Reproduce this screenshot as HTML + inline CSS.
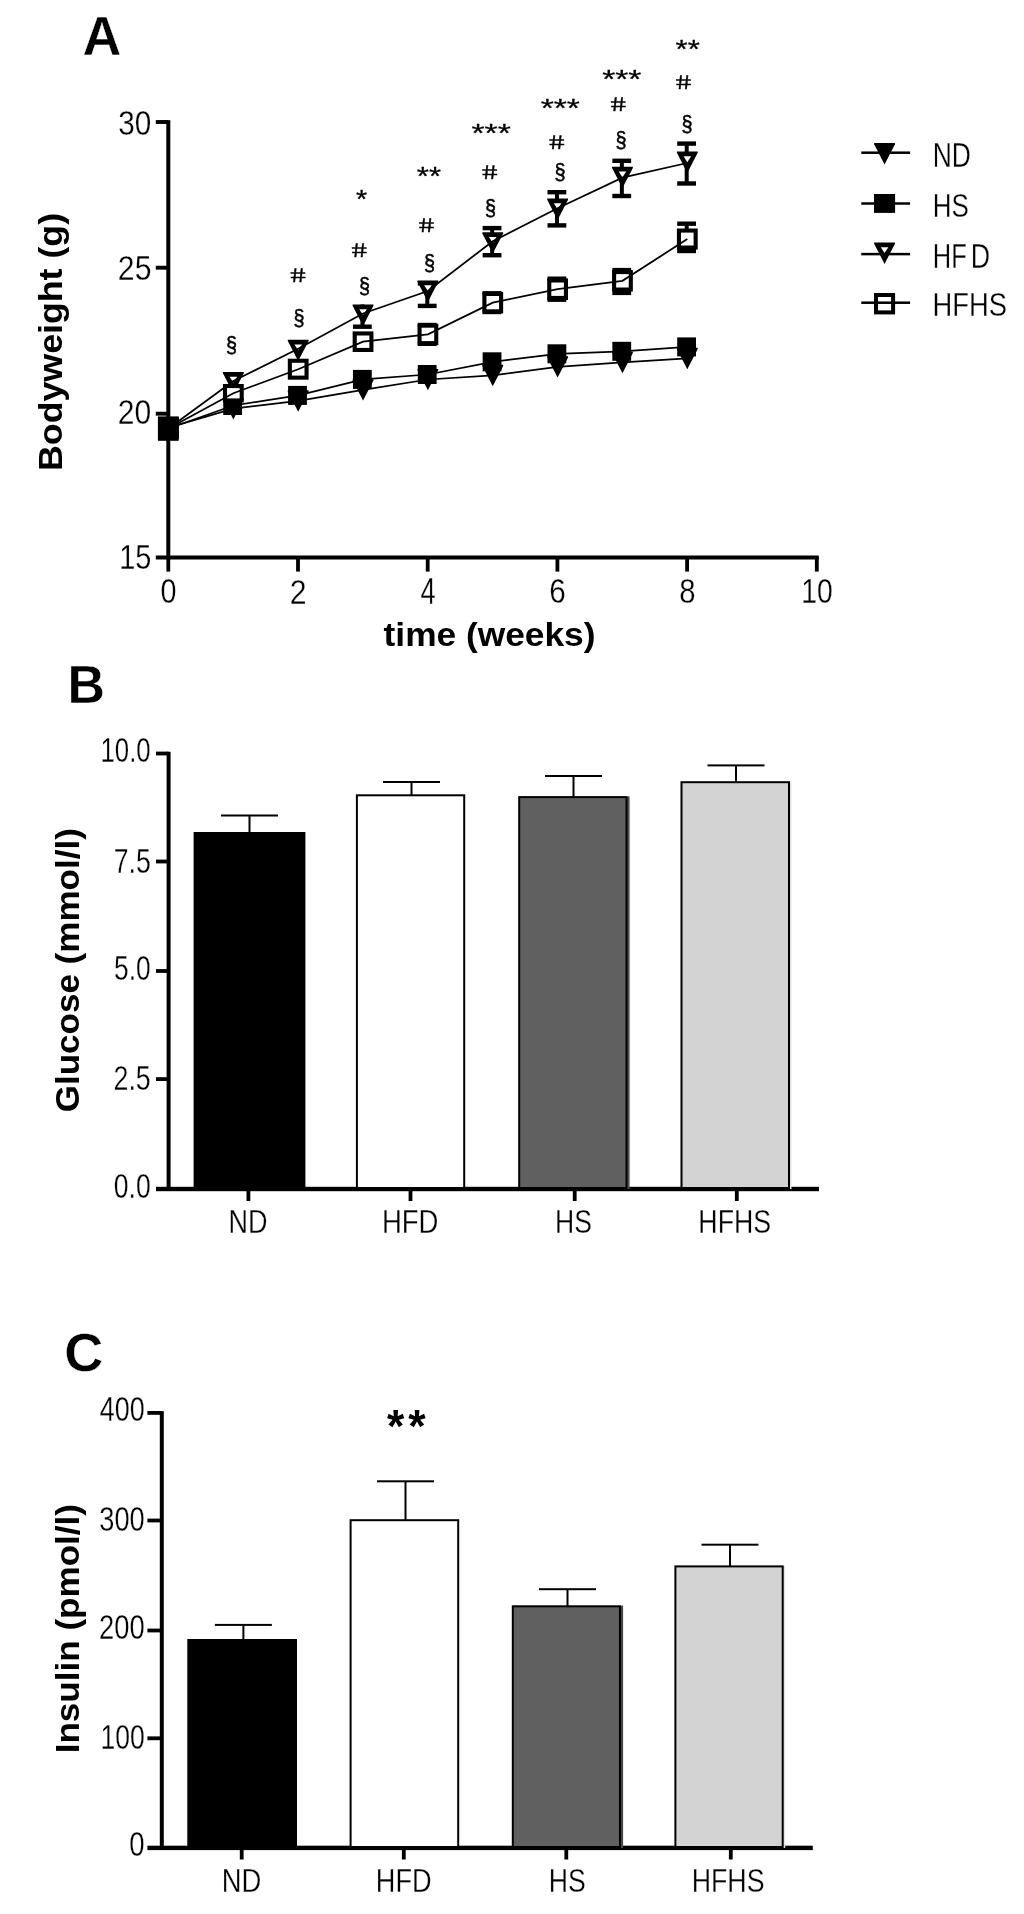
<!DOCTYPE html>
<html lang="en"><head><meta charset="utf-8"><title>Figure</title>
<style>
html,body{margin:0;padding:0;background:#fff}
svg{display:block;filter:blur(0.45px)}
text{font-family:"Liberation Sans",Arial,sans-serif;fill:#000}
</style></head><body>
<svg width="1024" height="1914" viewBox="0 0 1024 1914">
<rect width="1024" height="1914" fill="#fff"/>
<text transform="matrix(0.5388 0 0 0.5542 82.45 54.50)" font-size="100" font-weight="bold" stroke="#fff" stroke-width="0.73">A</text>
<rect x="166.30" y="120.20" width="4.00" height="439.30" fill="#000"/>
<rect x="155.80" y="555.50" width="663.00" height="4.00" fill="#000"/>
<rect x="155.80" y="120.05" width="12.50" height="3.90" fill="#000"/>
<rect x="155.80" y="265.75" width="12.50" height="3.90" fill="#000"/>
<rect x="155.80" y="411.75" width="12.50" height="3.90" fill="#000"/>
<rect x="166.40" y="557.00" width="3.80" height="14.60" fill="#000"/>
<rect x="296.10" y="557.00" width="3.80" height="14.60" fill="#000"/>
<rect x="425.80" y="557.00" width="3.80" height="14.60" fill="#000"/>
<rect x="555.50" y="557.00" width="3.80" height="14.60" fill="#000"/>
<rect x="685.20" y="557.00" width="3.80" height="14.60" fill="#000"/>
<rect x="814.90" y="557.00" width="3.80" height="14.60" fill="#000"/>
<text transform="matrix(0.2971 0 0 0.3484 118.26 134.58)" font-size="100" stroke="#fff" stroke-width="0.78">30</text>
<text transform="matrix(0.3015 0 0 0.3484 117.87 279.98)" font-size="100" stroke="#fff" stroke-width="0.77">25</text>
<text transform="matrix(0.3007 0 0 0.3484 117.87 424.08)" font-size="100" stroke="#fff" stroke-width="0.77">20</text>
<text transform="matrix(0.2889 0 0 0.3534 119.21 569.07)" font-size="100" stroke="#fff" stroke-width="0.78">15</text>
<text transform="matrix(0.2880 0 0 0.3512 160.47 603.37)" font-size="100" stroke="#fff" stroke-width="0.79">0</text>
<text transform="matrix(0.3022 0 0 0.3563 289.81 603.73)" font-size="100" stroke="#fff" stroke-width="0.76">2</text>
<text transform="matrix(0.2723 0 0 0.3615 420.41 603.73)" font-size="100" stroke="#fff" stroke-width="0.80">4</text>
<text transform="matrix(0.2973 0 0 0.3512 549.24 603.37)" font-size="100" stroke="#fff" stroke-width="0.77">6</text>
<text transform="matrix(0.2926 0 0 0.3512 679.18 603.37)" font-size="100" stroke="#fff" stroke-width="0.78">8</text>
<text transform="matrix(0.2832 0 0 0.3512 801.25 603.37)" font-size="100" stroke="#fff" stroke-width="0.79">10</text>
<text transform="translate(62.35 471.01) rotate(-90) scale(0.3576 0.3413)" font-size="100" font-weight="bold">Bodyweight (g)</text>
<text transform="matrix(0.3532 0 0 0.3271 383.56 646.41)" font-size="100" font-weight="bold">time (weeks)</text>
<polygon points="158.10,417.10 178.90,417.10 178.90,418.30 168.50,438.50 158.10,418.30" fill="#000"/>
<polygon points="222.95,398.10 243.75,398.10 243.75,399.30 233.35,419.50 222.95,399.30" fill="#000"/>
<polygon points="287.80,390.30 308.60,390.30 308.60,391.50 298.20,411.70 287.80,391.50" fill="#000"/>
<polygon points="352.65,379.20 373.45,379.20 373.45,380.40 363.05,400.60 352.65,380.40" fill="#000"/>
<polygon points="417.50,368.90 438.30,368.90 438.30,370.10 427.90,390.30 417.50,370.10" fill="#000"/>
<polygon points="482.35,364.80 503.15,364.80 503.15,366.00 492.75,386.20 482.35,366.00" fill="#000"/>
<polygon points="547.20,356.20 568.00,356.20 568.00,357.40 557.60,377.60 547.20,357.40" fill="#000"/>
<polygon points="612.05,351.80 632.85,351.80 632.85,353.00 622.45,373.20 612.05,353.00" fill="#000"/>
<polygon points="676.90,347.80 697.70,347.80 697.70,349.00 687.30,369.20 676.90,349.00" fill="#000"/>
<polyline points="168.50,427.70 233.35,408.70 298.20,400.90 363.05,389.80 427.90,379.50 492.75,375.40 557.60,366.80 622.45,362.40 687.30,358.40" fill="none" stroke="#000" stroke-width="1.75"/>
<rect x="158.40" y="419.00" width="18.80" height="19.00" fill="#000"/>
<rect x="223.25" y="396.00" width="18.80" height="19.00" fill="#000"/>
<rect x="288.10" y="385.90" width="18.80" height="19.00" fill="#000"/>
<rect x="352.95" y="369.90" width="18.80" height="19.00" fill="#000"/>
<rect x="417.80" y="365.00" width="18.80" height="19.00" fill="#000"/>
<rect x="482.65" y="352.30" width="18.80" height="19.00" fill="#000"/>
<rect x="547.50" y="344.30" width="18.80" height="19.00" fill="#000"/>
<rect x="612.35" y="341.80" width="18.80" height="19.00" fill="#000"/>
<rect x="677.20" y="337.40" width="18.80" height="19.00" fill="#000"/>
<polyline points="168.50,428.50 233.35,405.50 298.20,395.40 363.05,379.40 427.90,374.50 492.75,361.80 557.60,353.80 622.45,351.30 687.30,346.90" fill="none" stroke="#000" stroke-width="1.75"/>
<rect x="360.45" y="304.50" width="4.00" height="22.20" fill="#000"/>
<rect x="352.95" y="324.50" width="18.80" height="4.40" fill="#000"/>
<rect x="425.30" y="283.40" width="4.00" height="22.50" fill="#000"/>
<rect x="417.80" y="303.70" width="18.80" height="4.40" fill="#000"/>
<rect x="417.80" y="281.20" width="18.80" height="4.40" fill="#000"/>
<rect x="490.15" y="228.10" width="4.00" height="27.10" fill="#000"/>
<rect x="482.65" y="253.00" width="18.80" height="4.40" fill="#000"/>
<rect x="482.65" y="225.90" width="18.80" height="4.40" fill="#000"/>
<rect x="555.00" y="192.20" width="4.00" height="33.20" fill="#000"/>
<rect x="547.50" y="223.20" width="18.80" height="4.40" fill="#000"/>
<rect x="547.50" y="190.00" width="18.80" height="4.40" fill="#000"/>
<rect x="619.85" y="160.80" width="4.00" height="35.20" fill="#000"/>
<rect x="612.35" y="193.80" width="18.80" height="4.40" fill="#000"/>
<rect x="612.35" y="158.60" width="18.80" height="4.40" fill="#000"/>
<rect x="684.70" y="143.60" width="4.00" height="39.90" fill="#000"/>
<rect x="677.20" y="181.30" width="18.80" height="4.40" fill="#000"/>
<rect x="677.20" y="141.40" width="18.80" height="4.40" fill="#000"/>
<polygon points="158.10,419.50 178.90,419.50 178.90,420.70 168.50,440.90 158.10,420.70" fill="#000"/>
<polygon points="164.70,424.20 172.30,424.20 168.50,430.10" fill="#fff"/>
<polygon points="222.95,372.00 243.75,372.00 243.75,373.20 233.35,393.40 222.95,373.20" fill="#000"/>
<polygon points="229.55,376.70 237.15,376.70 233.35,382.60" fill="#fff"/>
<polygon points="287.80,339.70 308.60,339.70 308.60,340.90 298.20,361.10 287.80,340.90" fill="#000"/>
<polygon points="294.40,344.40 302.00,344.40 298.20,350.30" fill="#fff"/>
<polygon points="352.65,304.50 373.45,304.50 373.45,305.70 363.05,325.90 352.65,305.70" fill="#000"/>
<polygon points="359.25,309.20 366.85,309.20 363.05,315.10" fill="#fff"/>
<polygon points="417.50,280.50 438.30,280.50 438.30,281.70 427.90,301.90 417.50,281.70" fill="#000"/>
<polygon points="424.10,285.20 431.70,285.20 427.90,291.10" fill="#fff"/>
<polygon points="482.35,232.20 503.15,232.20 503.15,233.40 492.75,253.60 482.35,233.40" fill="#000"/>
<polygon points="488.95,236.90 496.55,236.90 492.75,242.80" fill="#fff"/>
<polygon points="547.20,198.60 568.00,198.60 568.00,199.80 557.60,220.00 547.20,199.80" fill="#000"/>
<polygon points="553.80,203.30 561.40,203.30 557.60,209.20" fill="#fff"/>
<polygon points="612.05,166.70 632.85,166.70 632.85,167.90 622.45,188.10 612.05,167.90" fill="#000"/>
<polygon points="618.65,171.40 626.25,171.40 622.45,177.30" fill="#fff"/>
<polygon points="676.90,151.60 697.70,151.60 697.70,152.80 687.30,173.00 676.90,152.80" fill="#000"/>
<polygon points="683.50,156.30 691.10,156.30 687.30,162.20" fill="#fff"/>
<polyline points="168.50,428.50 233.35,381.00 298.20,348.70 363.05,313.50 427.90,291.00 492.75,241.20 557.60,208.30 622.45,177.60 687.30,163.00" fill="none" stroke="#000" stroke-width="1.75"/>
<rect x="425.30" y="325.00" width="4.00" height="18.80" fill="#000"/>
<rect x="417.80" y="322.80" width="18.80" height="4.40" fill="#000"/>
<rect x="417.80" y="341.60" width="18.80" height="4.40" fill="#000"/>
<rect x="490.15" y="293.30" width="4.00" height="18.70" fill="#000"/>
<rect x="482.65" y="291.10" width="18.80" height="4.40" fill="#000"/>
<rect x="482.65" y="309.80" width="18.80" height="4.40" fill="#000"/>
<rect x="555.00" y="278.70" width="4.00" height="21.00" fill="#000"/>
<rect x="547.50" y="276.50" width="18.80" height="4.40" fill="#000"/>
<rect x="547.50" y="297.50" width="18.80" height="4.40" fill="#000"/>
<rect x="619.85" y="270.10" width="4.00" height="22.80" fill="#000"/>
<rect x="612.35" y="267.90" width="18.80" height="4.40" fill="#000"/>
<rect x="612.35" y="290.70" width="18.80" height="4.40" fill="#000"/>
<rect x="684.70" y="223.70" width="4.00" height="27.30" fill="#000"/>
<rect x="677.20" y="221.50" width="18.80" height="4.40" fill="#000"/>
<rect x="677.20" y="248.80" width="18.80" height="4.40" fill="#000"/>
<rect x="160.15" y="420.05" width="16.70" height="16.90" fill="#fff" stroke="#000" stroke-width="4.1"/>
<rect x="225.00" y="386.05" width="16.70" height="14.40" fill="#fff" stroke="#000" stroke-width="4.1"/>
<rect x="289.85" y="360.75" width="16.70" height="16.90" fill="#fff" stroke="#000" stroke-width="4.1"/>
<rect x="354.70" y="333.45" width="16.70" height="16.50" fill="#fff" stroke="#000" stroke-width="4.1"/>
<rect x="419.55" y="325.65" width="16.70" height="17.50" fill="#fff" stroke="#000" stroke-width="4.1"/>
<rect x="484.40" y="293.95" width="16.70" height="17.40" fill="#fff" stroke="#000" stroke-width="4.1"/>
<rect x="549.25" y="280.45" width="16.70" height="17.50" fill="#fff" stroke="#000" stroke-width="4.1"/>
<rect x="614.10" y="272.05" width="16.70" height="17.50" fill="#fff" stroke="#000" stroke-width="4.1"/>
<rect x="678.95" y="230.55" width="16.70" height="17.00" fill="#fff" stroke="#000" stroke-width="4.1"/>
<polyline points="168.50,428.50 233.35,393.25 298.20,369.20 363.05,341.70 427.90,334.40 492.75,302.65 557.60,289.20 622.45,280.80 687.30,239.05" fill="none" stroke="#000" stroke-width="1.75"/>
<rect x="157.90" y="416.40" width="20.80" height="24.40" fill="#000"/>
<rect x="861.30" y="151.45" width="48.80" height="2.50" fill="#000"/>
<rect x="861.30" y="202.25" width="48.80" height="2.50" fill="#000"/>
<rect x="861.30" y="252.85" width="48.80" height="2.50" fill="#000"/>
<rect x="861.30" y="301.45" width="48.80" height="2.50" fill="#000"/>
<polygon points="874.15,143.00 894.95,143.00 894.95,144.20 884.55,164.40 874.15,144.20" fill="#000"/>
<rect x="874.00" y="194.00" width="21.10" height="18.90" fill="#000"/>
<polygon points="874.15,242.50 894.95,242.50 894.95,243.70 884.55,263.90 874.15,243.70" fill="#000"/>
<polygon points="880.75,247.20 888.35,247.20 884.55,253.10" fill="#fff"/>
<rect x="876.00" y="295.00" width="17.10" height="17.40" fill="#fff" stroke="#000" stroke-width="4"/>
<rect x="877.00" y="301.45" width="15.00" height="2.50" fill="#000"/>
<text transform="matrix(0.2643 0 0 0.3455 932.69 167.03)" font-size="100" stroke="#fff" stroke-width="0.83">ND</text>
<text transform="matrix(0.2599 0 0 0.3371 932.73 216.99)" font-size="100" stroke="#fff" stroke-width="0.84">HS</text>
<text transform="matrix(0.2550 0 0 0.3513 932.77 268.23)" font-size="100" stroke="#fff" stroke-width="0.84">HF</text>
<text transform="matrix(0.2675 0 0 0.3513 970.67 268.23)" font-size="100" stroke="#fff" stroke-width="0.82">D</text>
<text transform="matrix(0.2733 0 0 0.3385 932.62 316.29)" font-size="100" stroke="#fff" stroke-width="0.82">HFHS</text>
<text transform="matrix(0.1989 0 0 0.2259 226.11 351.83)" font-size="100" stroke="#000" stroke-width="2.36">§</text>
<text transform="matrix(0.1989 0 0 0.2259 293.61 324.83)" font-size="100" stroke="#000" stroke-width="2.36">§</text>
<text transform="matrix(0.2729 0 0.0382 0.1971 291.72 282.30)" font-size="100" stroke="#000" stroke-width="1.8">#</text>
<text transform="matrix(0.1989 0 0 0.2259 359.11 292.83)" font-size="100" stroke="#000" stroke-width="2.36">§</text>
<text transform="matrix(0.2729 0 0.0382 0.1971 353.02 256.90)" font-size="100" stroke="#000" stroke-width="1.8">#</text>
<text transform="matrix(0.2873 0 0 0.2486 355.95 208.04)" font-size="100" stroke="#000" stroke-width="1.12">*</text>
<text transform="matrix(0.1989 0 0 0.2259 424.11 270.13)" font-size="100" stroke="#000" stroke-width="2.36">§</text>
<text transform="matrix(0.2729 0 0.0382 0.1971 420.32 231.70)" font-size="100" stroke="#000" stroke-width="1.8">#</text>
<text transform="matrix(0.3114 0 0 0.2486 416.81 184.74)" font-size="100" stroke="#000" stroke-width="1.08">**</text>
<text transform="matrix(0.1989 0 0 0.2259 485.11 214.63)" font-size="100" stroke="#000" stroke-width="2.36">§</text>
<text transform="matrix(0.2729 0 0.0382 0.1971 483.62 178.50)" font-size="100" stroke="#000" stroke-width="1.8">#</text>
<text transform="matrix(0.3355 0 0 0.2486 471.56 142.44)" font-size="100" stroke="#000" stroke-width="1.04">***</text>
<text transform="matrix(0.1989 0 0 0.2259 554.61 178.83)" font-size="100" stroke="#000" stroke-width="2.36">§</text>
<text transform="matrix(0.2729 0 0.0382 0.1971 550.52 149.00)" font-size="100" stroke="#000" stroke-width="1.8">#</text>
<text transform="matrix(0.3355 0 0 0.2486 540.76 116.84)" font-size="100" stroke="#000" stroke-width="1.04">***</text>
<text transform="matrix(0.1989 0 0 0.2259 615.61 146.83)" font-size="100" stroke="#000" stroke-width="2.36">§</text>
<text transform="matrix(0.2729 0 0.0382 0.1971 612.02 111.00)" font-size="100" stroke="#000" stroke-width="1.8">#</text>
<text transform="matrix(0.3355 0 0 0.2486 602.26 87.74)" font-size="100" stroke="#000" stroke-width="1.04">***</text>
<text transform="matrix(0.1989 0 0 0.2259 681.41 131.13)" font-size="100" stroke="#000" stroke-width="2.36">§</text>
<text transform="matrix(0.2729 0 0.0382 0.1971 677.32 88.50)" font-size="100" stroke="#000" stroke-width="1.8">#</text>
<text transform="matrix(0.3114 0 0 0.2486 675.61 58.04)" font-size="100" stroke="#000" stroke-width="1.08">**</text>
<text transform="matrix(0.5189 0 0 0.5455 67.55 702.70)" font-size="100" font-weight="bold" stroke="#fff" stroke-width="0.75">B</text>
<rect x="166.60" y="751.80" width="4.00" height="439.10" fill="#000"/>
<rect x="156.00" y="1186.80" width="663.00" height="4.40" fill="#000"/>
<rect x="156.00" y="751.60" width="12.60" height="3.80" fill="#000"/>
<rect x="156.00" y="859.60" width="12.60" height="3.80" fill="#000"/>
<rect x="156.00" y="969.10" width="12.60" height="3.80" fill="#000"/>
<rect x="156.00" y="1077.20" width="12.60" height="3.80" fill="#000"/>
<rect x="246.50" y="1189.00" width="3.80" height="12.00" fill="#000"/>
<rect x="408.60" y="1189.00" width="3.80" height="12.00" fill="#000"/>
<rect x="572.80" y="1189.00" width="3.80" height="12.00" fill="#000"/>
<rect x="734.90" y="1189.00" width="3.80" height="12.00" fill="#000"/>
<text transform="matrix(0.2578 0 0 0.3456 100.54 762.38)" font-size="100" stroke="#fff" stroke-width="0.84">10.0</text>
<text transform="matrix(0.2663 0 0 0.3505 113.78 872.87)" font-size="100" stroke="#fff" stroke-width="0.82">7.5</text>
<text transform="matrix(0.2632 0 0 0.3456 114.12 980.18)" font-size="100" stroke="#fff" stroke-width="0.83">5.0</text>
<text transform="matrix(0.2681 0 0 0.3456 113.53 1090.18)" font-size="100" stroke="#fff" stroke-width="0.82">2.5</text>
<text transform="matrix(0.2655 0 0 0.3456 113.81 1197.78)" font-size="100" stroke="#fff" stroke-width="0.83">0.0</text>
<text transform="translate(79.05 1112.30) rotate(-90) scale(0.3504 0.3399)" font-size="100" font-weight="bold">Glucose (mmol/l)</text>
<rect x="248.50" y="815.50" width="2.00" height="17.50" fill="#000"/>
<rect x="221.00" y="814.50" width="57.00" height="2.00" fill="#000"/>
<rect x="194.60" y="833.00" width="109.80" height="355.00" fill="#000" stroke="#000" stroke-width="2.0"/>
<rect x="410.50" y="782.00" width="2.00" height="13.30" fill="#000"/>
<rect x="383.00" y="781.00" width="57.00" height="2.00" fill="#000"/>
<rect x="356.90" y="795.30" width="107.30" height="392.70" fill="#fff" stroke="#000" stroke-width="2.0"/>
<rect x="626.50" y="796.40" width="3.10" height="392.60" fill="#505050"/>
<rect x="572.50" y="776.00" width="2.00" height="21.10" fill="#000"/>
<rect x="545.00" y="775.00" width="57.00" height="2.00" fill="#000"/>
<rect x="519.20" y="797.10" width="107.30" height="390.90" fill="#606060" stroke="#000" stroke-width="2.0"/>
<rect x="789.00" y="781.50" width="2.50" height="407.50" fill="#e4e4e4"/>
<rect x="735.00" y="765.40" width="2.00" height="16.80" fill="#000"/>
<rect x="707.50" y="764.40" width="57.00" height="2.00" fill="#000"/>
<rect x="681.50" y="782.20" width="107.50" height="405.80" fill="#d3d3d3" stroke="#000" stroke-width="2.0"/>
<text transform="matrix(0.2696 0 0 0.3338 228.45 1233.12)" font-size="100" stroke="#fff" stroke-width="0.83">ND</text>
<text transform="matrix(0.2751 0 0 0.3338 381.91 1233.12)" font-size="100" stroke="#fff" stroke-width="0.83">HFD</text>
<text transform="matrix(0.2655 0 0 0.3244 554.98 1232.80)" font-size="100" stroke="#fff" stroke-width="0.85">HS</text>
<text transform="matrix(0.2675 0 0 0.3244 698.37 1232.80)" font-size="100" stroke="#fff" stroke-width="0.85">HFHS</text>
<text transform="matrix(0.5420 0 0 0.5357 64.23 1370.66)" font-size="100" font-weight="bold" stroke="#fff" stroke-width="0.74">C</text>
<rect x="159.80" y="1411.20" width="4.00" height="438.50" fill="#000"/>
<rect x="147.40" y="1845.70" width="665.40" height="4.40" fill="#000"/>
<rect x="147.40" y="1411.00" width="14.40" height="3.80" fill="#000"/>
<rect x="147.40" y="1518.60" width="14.40" height="3.80" fill="#000"/>
<rect x="147.40" y="1628.60" width="14.40" height="3.80" fill="#000"/>
<rect x="147.40" y="1736.40" width="14.40" height="3.80" fill="#000"/>
<rect x="239.80" y="1848.00" width="3.80" height="11.50" fill="#000"/>
<rect x="401.90" y="1848.00" width="3.80" height="11.50" fill="#000"/>
<rect x="564.40" y="1848.00" width="3.80" height="11.50" fill="#000"/>
<rect x="728.90" y="1848.00" width="3.80" height="11.50" fill="#000"/>
<text transform="matrix(0.2691 0 0 0.3428 99.77 1421.38)" font-size="100" stroke="#fff" stroke-width="0.82">400</text>
<text transform="matrix(0.2722 0 0 0.3428 99.25 1531.28)" font-size="100" stroke="#fff" stroke-width="0.82">300</text>
<text transform="matrix(0.2737 0 0 0.3428 99.01 1638.98)" font-size="100" stroke="#fff" stroke-width="0.82">200</text>
<text transform="matrix(0.2653 0 0 0.3428 100.39 1749.38)" font-size="100" stroke="#fff" stroke-width="0.83">100</text>
<text transform="matrix(0.2754 0 0 0.3428 129.37 1856.28)" font-size="100" stroke="#fff" stroke-width="0.81">0</text>
<text transform="translate(79.05 1753.37) rotate(-90) scale(0.3509 0.3399)" font-size="100" font-weight="bold">Insulin (pmol/l)</text>
<rect x="242.40" y="1624.90" width="2.00" height="15.10" fill="#000"/>
<rect x="214.90" y="1623.90" width="57.00" height="2.00" fill="#000"/>
<rect x="188.30" y="1640.00" width="107.70" height="207.00" fill="#000" stroke="#000" stroke-width="2.0"/>
<rect x="404.50" y="1481.30" width="2.00" height="38.90" fill="#000"/>
<rect x="377.00" y="1480.30" width="57.00" height="2.00" fill="#000"/>
<rect x="350.60" y="1520.20" width="107.60" height="326.80" fill="#fff" stroke="#000" stroke-width="2.0"/>
<rect x="620.00" y="1605.60" width="3.10" height="242.40" fill="#484848"/>
<rect x="566.50" y="1589.20" width="2.00" height="17.10" fill="#000"/>
<rect x="539.00" y="1588.20" width="57.00" height="2.00" fill="#000"/>
<rect x="512.80" y="1606.30" width="107.20" height="240.70" fill="#606060" stroke="#000" stroke-width="2.0"/>
<rect x="782.70" y="1565.70" width="2.50" height="282.30" fill="#e4e4e4"/>
<rect x="729.00" y="1544.70" width="2.00" height="21.70" fill="#000"/>
<rect x="701.50" y="1543.70" width="57.00" height="2.00" fill="#000"/>
<rect x="675.40" y="1566.40" width="107.30" height="280.60" fill="#d3d3d3" stroke="#000" stroke-width="2.0"/>
<text transform="matrix(0.2741 0 0 0.3324 221.81 1892.33)" font-size="100" stroke="#fff" stroke-width="0.83">ND</text>
<text transform="matrix(0.2714 0 0 0.3324 375.84 1892.33)" font-size="100" stroke="#fff" stroke-width="0.83">HFD</text>
<text transform="matrix(0.2663 0 0 0.3230 548.68 1892.00)" font-size="100" stroke="#fff" stroke-width="0.85">HS</text>
<text transform="matrix(0.2679 0 0 0.3230 691.66 1892.00)" font-size="100" stroke="#fff" stroke-width="0.85">HFHS</text>
<text transform="matrix(0.4442 0 0 0.4617 387.09 1442.34)" font-size="100" font-weight="bold">*</text>
<text transform="matrix(0.4468 0 0 0.4617 408.29 1442.34)" font-size="100" font-weight="bold">*</text>
</svg>
</body></html>
